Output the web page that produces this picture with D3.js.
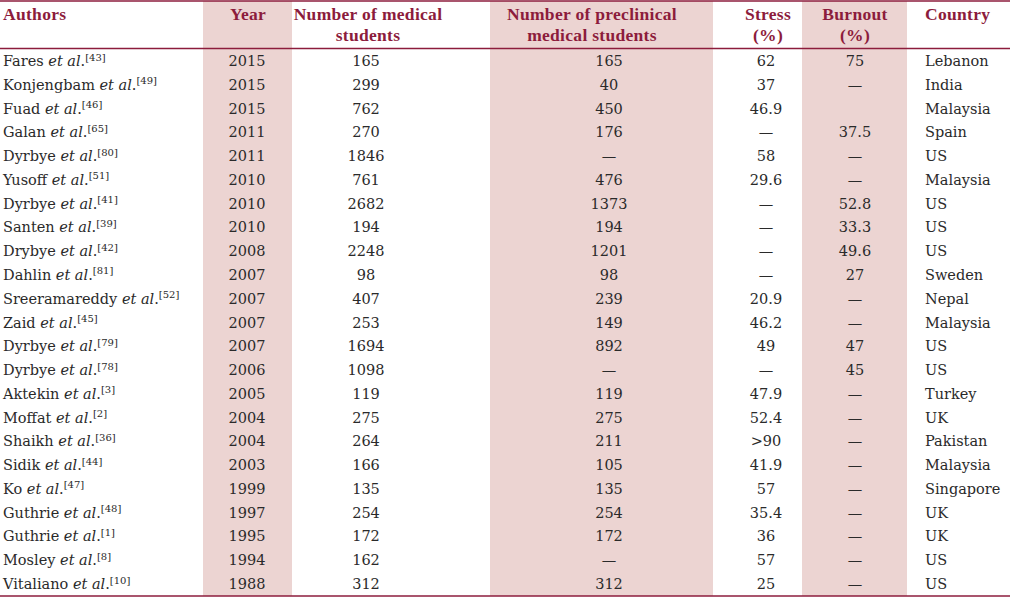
<!DOCTYPE html>
<html><head><meta charset="utf-8">
<script src="https://cdn.jsdelivr.net/npm/d3@7"></script>
<style>html,body{margin:0;padding:0;background:#fff;}svg{display:block;}</style>
</head><body>
<script>
const authors = ["Fares","Konjengbam","Fuad","Galan","Dyrbye","Yusoff","Dyrbye","Santen","Drybye","Dahlin","Sreeramareddy","Zaid","Dyrbye","Dyrbye","Aktekin","Moffat","Shaikh","Sidik","Ko","Guthrie","Guthrie","Mosley","Vitaliano"];
const refs = ["43","49","46","65","80","51","41","39","42","81","52","45","79","78","3","2","36","44","47","48","1","8","10"];
const years = ["2015","2015","2015","2011","2011","2010","2010","2010","2008","2007","2007","2007","2007","2006","2005","2004","2004","2003","1999","1997","1995","1994","1988"];
const medical = ["165","299","762","270","1846","761","2682","194","2248","98","407","253","1694","1098","119","275","264","166","135","254","172","162","312"];
const preclinical = ["165","40","450","176","—","476","1373","194","1201","98","239","149","892","—","119","275","211","105","135","254","172","—","312"];
const stress = ["62","37","46.9","—","58","29.6","—","—","—","—","20.9","46.2","49","—","47.9","52.4",">90","41.9","57","35.4","36","57","25"];
const burnout = ["75","—","","37.5","—","—","52.8","33.3","49.6","27","—","—","47","45","—","—","—","—","—","—","—","—","—"];
const country = ["Lebanon","India","Malaysia","Spain","US","Malaysia","US","US","US","Sweden","Nepal","Malaysia","US","US","Turkey","UK","Pakistan","Malaysia","Singapore","UK","UK","US","US"];
const headers = [["Authors"],["Year"],["Number of medical","students"],["Number of preclinical","medical students"],["Stress","(%)"],["Burnout","(%)"],["Country"]];

const W = 1010, H = 598;
const maroon = "#8c1c3c", shade = "#ecd4d2", ink = "#2a2a2a";
const hfont = "'Liberation Serif', 'Times New Roman', serif";
const bfont = "'DejaVu Serif', serif";

const svg = d3.select("body").append("svg").attr("width", W).attr("height", H);

const cols = [
  {hx: 3, bx: 3, anchor: "start"},
  {x0: 203, x1: 292, hx: 248, bx: 247, anchor: "middle"},
  {hx: 368, bx: 366, anchor: "middle"},
  {x0: 490, x1: 713, hx: 592, bx: 609, anchor: "middle"},
  {hx: 768, bx: 766, anchor: "middle"},
  {x0: 802, x1: 907, hx: 855, bx: 855, anchor: "middle"},
  {hx: 925, bx: 925, anchor: "start"}
];

const idx = d3.range(authors.length);
const y = d3.scaleLinear().domain([0, authors.length - 1]).range([61, 584]);

svg.selectAll("rect.shade").data(cols.filter(c => c.x0 !== undefined)).enter()
  .append("rect").attr("x", c => c.x0).attr("y", 1).attr("width", c => c.x1 - c.x0)
  .attr("height", 595).attr("fill", shade);

[1, 48.5, 596].forEach(v => svg.append("line").attr("x1", 0).attr("x2", W)
  .attr("y1", v).attr("y2", v).attr("stroke", maroon).attr("stroke-width", 1.5));

headers.forEach((lines, i) => {
  const t = svg.append("text").attr("font-family", hfont).attr("font-weight", "bold")
    .attr("font-size", 17.5).attr("fill", maroon).attr("text-anchor", cols[i].anchor)
    .attr("letter-spacing", 0.3);
  lines.forEach((l, k) => t.append("tspan").attr("x", cols[i].hx).attr("y", 20 + k * 21).text(l));
});

const body = svg.append("g").attr("font-family", bfont).attr("font-size", 14.5).attr("fill", ink);

const at = body.selectAll("text.author").data(idx).enter().append("text")
  .attr("x", cols[0].bx).attr("y", i => y(i) + 5);
at.append("tspan").text(i => authors[i] + " ");
at.append("tspan").attr("font-style", "italic").text("et al");
at.append("tspan").text(".");
at.append("tspan").attr("font-size", 10).attr("dy", -5.5).text(i => "[" + refs[i] + "]");

const colData = [years, medical, preclinical, stress, burnout, country];
colData.forEach((arr, j) => {
  const c = cols[j + 1];
  body.selectAll("text.c" + j).data(idx).enter().append("text")
    .attr("x", c.bx).attr("y", i => y(i) + 5).attr("text-anchor", c.anchor)
    .text(i => arr[i]);
});
</script>
</body></html>
